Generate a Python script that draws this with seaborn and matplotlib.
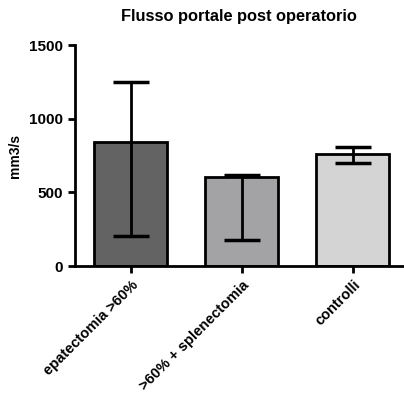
import matplotlib
matplotlib.use("Agg")
import matplotlib.pyplot as plt
import seaborn as sns
import pandas as pd
import numpy as np

categories = ["epatectomia >60%", ">60% + splenectomia", "controlli"]
means = [845, 606, 758]
err_low = [206, 176, 701]
err_high = [1247, 618, 808]
colors = ["#636363", "#a3a2a6", "#d4d4d4"]
yticks = [0, 500, 1000, 1500]

sns.set_style("ticks")
plt.rcParams['font.family'] = ['Liberation Sans', 'DejaVu Sans']
plt.rcParams['text.color'] = 'black'
plt.rcParams['axes.labelcolor'] = 'black'
plt.rcParams['xtick.color'] = 'black'
plt.rcParams['ytick.color'] = 'black'
plt.rcParams['axes.edgecolor'] = 'black'

df = pd.DataFrame({"cat": categories, "val": means})
fig = plt.figure(figsize=(4.04, 3.99), dpi=100)
ax = fig.add_axes([0.186, 0.333, 0.811, 0.554])
sns.barplot(data=df, x="cat", y="val", hue="cat", palette=colors, legend=False,
            width=0.66, edgecolor="black", linewidth=2, errorbar=None, ax=ax, zorder=2)
x = np.arange(len(categories))
m = np.array(means)
yerr = np.vstack([m - np.array(err_low), np.array(err_high) - m])
ax.errorbar(x, m, yerr=yerr, fmt="none", ecolor="black", elinewidth=2,
            capsize=13, capthick=2.5, zorder=3)
ax.set_ylim(0, 1500)
ax.set_xlim(-0.5, 2.45)
ax.set_yticks(yticks)
ax.set_xlabel("")
ax.set_ylabel("mm3/s", fontsize=10, fontweight="bold", labelpad=5)
ax.set_title("Flusso portale post operatorio", fontsize=11.8, fontweight="bold", pad=17)
sns.despine(ax=ax)
for s in ["left", "bottom"]:
    ax.spines[s].set_linewidth(2)
ax.tick_params(axis="both", width=2, length=5, labelsize=11)
ax.tick_params(axis="x", labelsize=10.5)
for lab in ax.get_yticklabels():
    lab.set_fontweight("bold")
ax.set_xticks(x)
ax.set_xticklabels(categories, rotation=45, ha="right", rotation_mode="anchor", fontweight="bold")
fig.savefig("out.png", dpi=100)
